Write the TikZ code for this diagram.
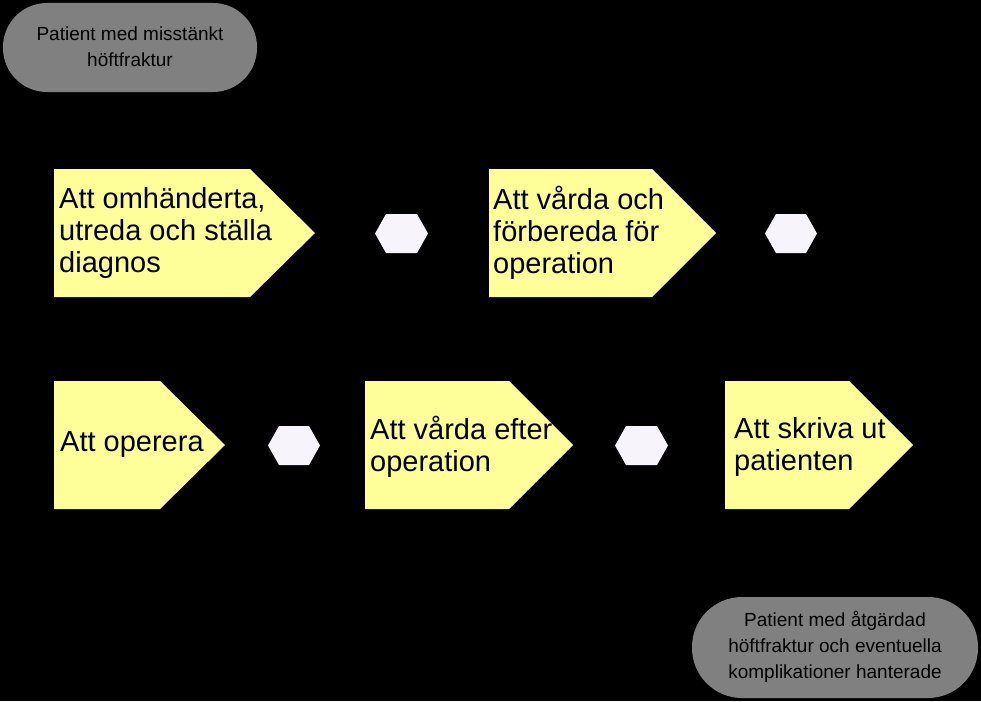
\documentclass[tikz,border=0pt]{standalone}
\usepackage{fontspec}
\setmainfont{Liberation Sans}
\usetikzlibrary{positioning}
\definecolor{stepyellow}{RGB}{255,255,153}
\definecolor{eventgray}{RGB}{128,128,128}
\definecolor{hexfill}{RGB}{248,244,252}

\begin{document}
\begin{tikzpicture}[x=1pt,y=1pt,yscale=-1,
    stepshape/.style={fill=stepyellow},
    hexshape/.style={fill=hexfill},
    steptext/.style={anchor=west,align=left,inner sep=0pt,font=\fontsize{29}{32}\selectfont},
    pilltext/.style={align=center,inner sep=0pt,font=\fontsize{19}{26}\selectfont}]
        \fill[black] (0,0) rectangle (981,701);
        % start and end events
        \fill[eventgray,rounded corners=44pt] (3,3) rectangle (257,92);
        \fill[eventgray,rounded corners=50pt] (692,597) rectangle (978,698);
        % process steps
        \fill[stepshape] (54,169) -- (250,169) -- (315,233) -- (250,297) -- (54,297) -- cycle;
        \fill[stepshape] (489,169) -- (652,169) -- (716,233) -- (652,297) -- (489,297) -- cycle;
        \fill[stepshape] (54,381) -- (160,381) -- (225,445) -- (160,509) -- (54,509) -- cycle;
        \fill[stepshape] (365,381) -- (509,381) -- (573,445) -- (509,509) -- (365,509) -- cycle;
        \fill[stepshape] (725,381) -- (849,381) -- (913,445) -- (849,509) -- (725,509) -- cycle;
        % connectors
        \fill[hexshape] (375,233.5) -- (386,214) -- (417,214) -- (428,233.5) -- (417,253) -- (386,253) -- cycle;
        \fill[hexshape] (765,233.5) -- (776,214) -- (806,214) -- (817,233.5) -- (806,253) -- (776,253) -- cycle;
        \fill[hexshape] (268,445.5) -- (279,426) -- (309,426) -- (320,445.5) -- (309,465) -- (279,465) -- cycle;
        \fill[hexshape] (615,445.5) -- (626,426) -- (657,426) -- (668,445.5) -- (657,465) -- (626,465) -- cycle;
        % labels
        \node[pilltext] (start) at (130,47) {Patient med misstänkt\\höftfraktur};
        \node[pilltext] (goal) at (835,647) {Patient med åtgärdad\\höftfraktur och eventuella\\komplikationer hanterade};
        \node[steptext] (receive) at (59,233) {Att omhänderta,\\utreda och ställa\\diagnos};
        \node[steptext] (prepare) at (493,233) {Att vårda och\\förbereda för\\operation};
        \node[steptext] (operate) at (60,445) {Att operera};
        \node[steptext] (aftercare) at (370,447) {Att vårda efter\\operation};
        \node[steptext] (discharge) at (734,447) {Att skriva ut\\patienten};
\end{tikzpicture}
\end{document}
